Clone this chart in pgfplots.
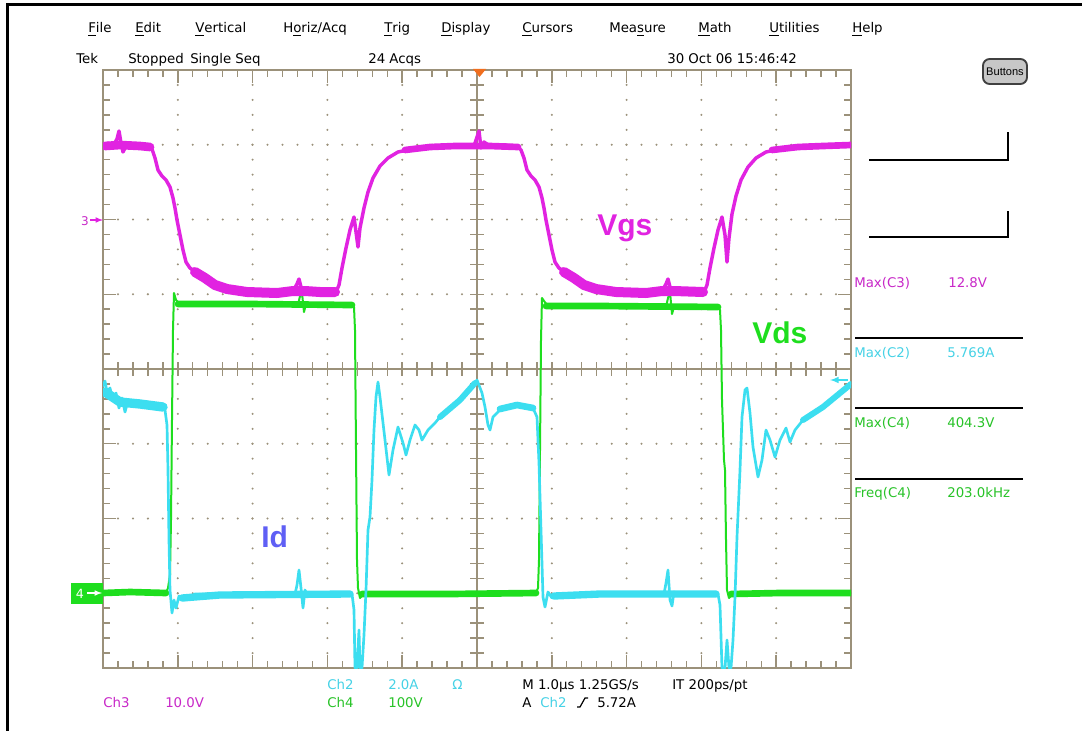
\documentclass[border=0pt]{standalone}
\usepackage{pgfplots}
\pgfplotsset{compat=1.18}
\usepackage{fontspec}
\setmainfont{DejaVu Sans}
\newfontfamily\labfont{Liberation Sans}
\definecolor{grat}{RGB}{155,145,122}
\definecolor{vgs}{RGB}{225,35,225}
\definecolor{vds}{RGB}{30,222,30}
\definecolor{idc}{RGB}{60,222,240}
\definecolor{idlab}{RGB}{95,95,245}
\definecolor{trig}{RGB}{240,110,30}
\definecolor{tmag}{RGB}{200,40,200}
\definecolor{tcya}{RGB}{70,210,230}
\definecolor{tgrn}{RGB}{40,195,40}
\newcommand\fs[1]{\fontsize{#1}{#1}\selectfont}

\begin{document}
\begin{tikzpicture}
% screen, pixel units (y downwards)
\begin{scope}[x=0.75pt,y=-0.75pt]
\fill[white] (0,0) rectangle (1082,731);
% dotted grid
\foreach \gx in {177.8,252.6,327.4,402.2,551.8,626.6,701.4,776.2}{
  \foreach \k in {1,...,39}{\fill[grat] (\gx,{70+\k*14.95}) circle (0.85pt);}}
\foreach \gy in {144.75,219.5,294.25,443.75,518.5,593.25}{
  \foreach \k in {1,...,49}{\fill[grat] ({103+\k*14.96},\gy) circle (0.85pt);}}
% frame and ticks
\draw[grat,line width=1.6pt] (103,70) rectangle (851,668);
\foreach \k in {1,...,49}{
  \pgfmathsetmacro\L{ifthenelse(mod(\k,5)==0,13,7)}
  \draw[grat,line width=1.1pt] ({103+\k*14.96},70) -- ++(0,\L);
  \draw[grat,line width=1.1pt] ({103+\k*14.96},668) -- ++(0,-\L);
  \draw[grat,line width=1.1pt] ({103+\k*14.96},362) -- ++(0,14);}
\foreach \k in {1,...,39}{
  \pgfmathsetmacro\L{ifthenelse(mod(\k,5)==0,13,7)}
  \draw[grat,line width=1.1pt] (103,{70+\k*14.95}) -- ++(\L,0);
  \draw[grat,line width=1.1pt] (851,{70+\k*14.95}) -- ++(-\L,0);
  \draw[grat,line width=1.1pt] (470,{70+\k*14.95}) -- ++(14,0);}
\draw[grat,line width=1.2pt] (477,70) -- (477,668);
\draw[grat,line width=1.2pt] (103,369) -- (851,369);
\end{scope}

\begin{axis}[at={(77.25pt,-52.5pt)}, anchor=north west, scale only axis,
  width=561pt, height=448.5pt, xmin=103, xmax=851, ymin=70, ymax=668,
  y dir=reverse, hide axis,
  every axis plot/.append style={line join=round, line cap=round}]
% Vds (Ch4)
\addplot[vds, line width=5pt] coordinates {(103,593) (130,592) (166,593)};
\addplot[vds, line width=5pt] coordinates {(178,304) (250,304) (352,305)};
\addplot[vds, line width=5pt] coordinates {(362,594) (450,594) (536,593)};
\addplot[vds, line width=5pt] coordinates {(546,306) (600,306) (718,307)};
\addplot[vds, line width=5pt] coordinates {(731,594) (780,593) (851,593)};
\addplot[vds, line width=1.5pt] coordinates {
(103,593) (130,592) (150,594) (166,593) (168,588) (170,575) (171,520) (172,420)
(173,330) (174,293) (176,300) (180,304) (200,305) (250,304) (298,305) (300,296)
(302,293) (304,312) (306,304) (352,305) (354,307) (355,330) (356,450) (357,560)
(358,588) (360,598) (364,594) (400,593) (450,594) (500,593) (536,593) (538,588)
(539,560) (540,450) (541,340) (542,298) (544,301) (548,306) (600,306) (666,307)
(668,298) (670,292) (672,314) (674,307) (718,307) (720,310) (721,330) (722,400)
(724,460) (725,470) (726,540) (727,590) (729,598) (733,594) (780,593) (851,593)};
% Id (Ch2)
\addplot[idc, line width=7pt] coordinates {(105,392) (120,402) (140,404) (163,407)};
\addplot[idc, line width=5.5pt] coordinates {(182,598) (220,595) (350,594)};
\addplot[idc, line width=4.5pt] coordinates {(440,417) (460,400) (475,383)};
\addplot[idc, line width=5pt] coordinates {(500,409) (517,405) (533,408)};
\addplot[idc, line width=5.5pt] coordinates {(554,596) (600,594) (716,594)};
\addplot[idc, line width=4.5pt] coordinates {(803,420) (823,407) (851,384)};
\addplot[idc, line width=2pt] coordinates {
(103,386) (105,381) (107,392) (110,388) (113,400) (116,393) (119,408) (122,398)
(125,412) (128,401) (132,406) (138,400) (145,407) (152,404) (160,407) (165,410)
(167,425) (168,470) (169,540) (170,590) (172,613) (174,600) (176,608) (179,596)
(185,600) (195,594) (220,594) (260,593) (295,594) (297,585) (299,570) (301,588)
(303,608) (305,590) (308,596) (330,594) (352,594) (354,610) (355,668) (357,668)
(359,630) (360,668) (362,668) (364,635) (366,590) (368,530) (370,517) (372,480)
(374,430) (376,397) (378,382) (380,397) (385,440) (389,475) (393,450) (398,427)
(403,443) (406,455) (410,440) (415,425) (419,430) (422,440) (428,430) (435,423)
(440,417) (450,407) (460,400) (470,390) (477,380) (482,393) (485,407) (488,425)
(490,430) (493,417) (500,410) (517,405) (533,408) (537,417) (539,463) (541,530)
(543,597) (545,607) (548,592) (552,598) (560,594) (600,593) (664,594) (666,583)
(668,570) (670,600) (672,606) (674,592) (680,594) (718,594) (720,605) (722,668)
(725,668) (727,640) (729,668) (731,668) (733,640) (735,597) (737,537) (740,470)
(742,417) (745,390) (747,388) (750,413) (753,447) (758,477) (762,460) (766,430)
(770,440) (775,457) (780,440) (786,428) (790,442) (795,430) (803,420) (813,413)
(823,407) (833,400) (843,390) (851,383)};
% Vgs (Ch3)
\addplot[vgs, line width=6.5pt] coordinates {(105,146) (120,145) (140,146) (150,147)};
\addplot[vgs, line width=7.5pt] coordinates {(195,272) (205,278) (215,285) (227,289)
(247,292) (277,293) (293,291) (305,291) (320,292) (335,292)};
\addplot[vgs, line width=5pt] coordinates {(405,150) (430,147) (455,146) (490,146) (518,147)};
\addplot[vgs, line width=7.5pt] coordinates {(564,272) (574,278) (584,285) (596,289)
(616,292) (646,293) (662,291) (674,291) (703,292)};
\addplot[vgs, line width=5pt] coordinates {(772,150) (798,147) (823,146) (851,145)};
\addplot[vgs, line width=2.6pt] coordinates {
(103,146) (108,143) (113,146) (117,139) (119,131) (121,143) (123,152) (126,146)
(132,147) (140,145) (148,146) (152,149) (155,158) (158,170) (162,176) (166,180)
(170,187) (173,198) (175,208) (177,220) (180,235) (183,250) (186,262) (190,268)
(197,273) (205,278) (215,285) (227,289) (247,292) (277,293) (293,291) (297,284)
(299,279) (301,287) (305,291) (320,292) (336,292) (339,285) (342,268) (346,248)
(350,230) (354,217) (356,232) (358,247) (360,228) (364,208) (368,192) (373,178)
(380,166) (388,158) (398,152) (412,149) (430,147) (455,146) (474,146) (477,137)
(479,131) (481,148) (484,142) (490,146) (505,145) (518,147) (521,150) (524,158)
(527,170) (531,176) (535,180) (539,187) (542,198) (544,208) (546,220) (549,235)
(552,250) (555,262) (559,268) (566,273) (574,278) (584,285) (596,289) (616,292)
(646,293) (662,291) (666,284) (668,279) (670,287) (674,291) (689,292) (704,292)
(707,285) (710,268) (714,248) (718,230) (722,217) (725,235) (727,262) (729,238)
(732,214) (736,196) (741,180) (748,167) (756,158) (766,152) (780,149) (798,147)
(823,146) (851,145)};
\end{axis}

% annotations, pixel units
\begin{scope}[x=0.75pt,y=-0.75pt, every node/.style={inner sep=0pt}]
\draw[black,line width=2.25pt] (7,731) -- (7,4.5) -- (1082,4.5);
% menu bar
\begin{scope}[every node/.style={inner sep=0pt, anchor=base west, font=\fs{10pt}}]
\node at (88,33) {\underline{F}ile};
\node at (135,33) {\underline{E}dit};
\node at (195,33) {\underline{V}ertical};
\node at (283,33) {H\underline{o}riz/Acq};
\node at (384,33) {\underline{T}rig};
\node at (441,33) {\underline{D}isplay};
\node at (522,33) {\underline{C}ursors};
\node at (609,33) {Mea\underline{s}ure};
\node at (698,33) {\underline{M}ath};
\node at (769,33) {\underline{U}tilities};
\node at (852,33) {\underline{H}elp};
\node at (76,64) {Tek};
\node at (128,64) {Stopped};
\node at (190,64) {Single Seq};
\node at (368,64) {24 Acqs};
\node at (667,64) {30 Oct 06 15:46:42};
% bottom readouts
\node[tcya] at (327,689) {Ch2};
\node[tcya] at (388,689) {2.0A};
\node[tcya] at (452,689) {Ω};
\node at (522,689) {M 1.0µs 1.25GS/s};
\node at (672,689) {IT 200ps/pt};
\node[tmag] at (103,707) {Ch3};
\node[tmag] at (165,707) {10.0V};
\node[tgrn] at (327,707) {Ch4};
\node[tgrn] at (388,707) {100V};
\node at (522,707) {A};
\node[tcya] at (540,707) {Ch2};
\node at (597,707) {5.72A};
% measurements
\node[tmag] at (854,287) {Max(C3)};
\node[tmag] at (948,287) {12.8V};
\node[tcya] at (854,357) {Max(C2)};
\node[tcya] at (947,357) {5.769A};
\node[tgrn] at (854,427) {Max(C4)};
\node[tgrn] at (947,427) {404.3V};
\node[tgrn] at (854,497) {Freq(C4)};
\node[tgrn] at (947,497) {203.0kHz};
\end{scope}
\draw[line width=0.9pt] (577,707) -- (580,707) -- (585,698) -- (588,698);
\draw[line width=1.1pt] (855,338) -- (1023,338);
\draw[line width=1.1pt] (855,408) -- (1023,408);
\draw[line width=1.1pt] (855,479) -- (1023,479);
\draw[line width=1.2pt] (869,160) -- (1008,160) -- (1008,132);
\draw[line width=1.2pt] (869,237) -- (1008,237) -- (1008,211);
% buttons
\draw[black!75, line width=1.4pt, fill=black!22, rounded corners=5pt] (983,59) rectangle (1027,84);
\node[font=\labfont\fs{8.3pt}] at (1005,71.5) {Buttons};
% trigger and channel markers
\fill[trig] (473,69) -- (486,69) -- (479.5,77) -- cycle;
\node[tmag, font=\fs{9pt}] at (85,221) {3};
\draw[vgs, line width=0.9pt, -latex] (90,220) -- (103,220);
\fill[vds] (71,583) rectangle (103,604);
\node[white, font=\fs{9.5pt}] at (80,593.5) {4};
\draw[white, line width=0.9pt, -latex] (87,593) -- (102,593);
\draw[idc, line width=1.2pt, -latex] (848,380) -- (830,380);
% trace labels
\node[vgs, font=\labfont\bfseries\fs{22.5pt}, anchor=base west] at (597,235) {Vgs};
\node[vds, font=\labfont\bfseries\fs{22.5pt}, anchor=base west] at (752,343) {Vds};
\node[idlab, font=\labfont\bfseries\fs{22.5pt}, anchor=base west] at (261,547) {Id};
\pgfresetboundingbox
\path[use as bounding box] (0,0) rectangle (1082,731);
\end{scope}
\end{tikzpicture}
\end{document}
